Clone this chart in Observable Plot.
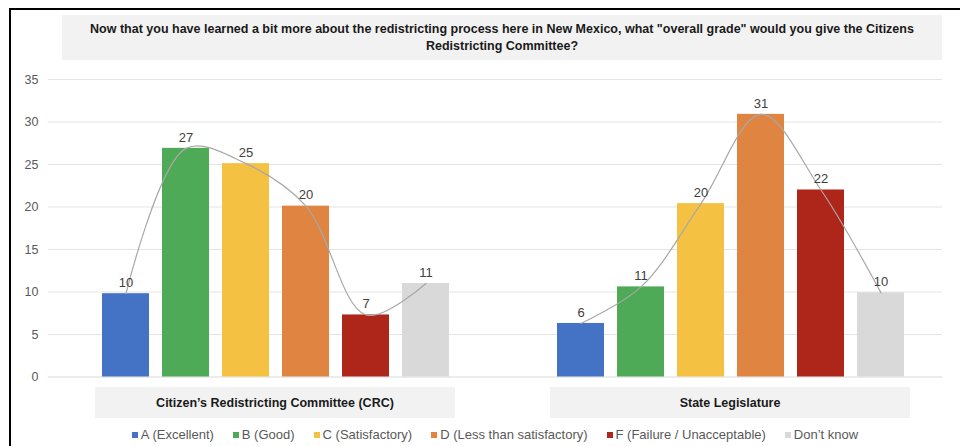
<!DOCTYPE html>
<html>
<head>
<meta charset="utf-8">
<script src="https://cdn.jsdelivr.net/npm/d3@7"></script>
<script src="https://cdn.jsdelivr.net/npm/@observablehq/plot@0.6"></script>
<style>
  html, body { margin: 0; padding: 0; background: #fff; }
  #page { position: relative; width: 960px; height: 446px; overflow: hidden; font-family: "Liberation Sans", Arial, sans-serif; }
  #frame { position: absolute; left: 9px; top: 8px; right: 0; bottom: 0; border-left: 2px solid #000; border-top: 2px solid #000; }
  #title { position: absolute; left: 62px; top: 15px; width: 880px; height: 45px; background: #f2f2f2;
           display: flex; align-items: center; justify-content: center; text-align: center;
           font-weight: bold; font-size: 12.5px; line-height: 17px; color: #1a1a1a; }
  .grp { position: absolute; top: 387px; height: 31px; background: #f2f2f2; display: flex; align-items: center; justify-content: center;
         font-weight: bold; font-size: 12.5px; color: #1a1a1a; }
  .chart { position: absolute; top: 65px; }
  #legend { position: absolute; left: 48px; top: 427px; width: 894px; display: flex; justify-content: center; }
</style>
</head>
<body>
<div id="page">
  <div id="frame"></div>
  <div id="title"></div>
  <div id="c1" class="chart" style="left:0px"></div>
  <div id="c2" class="chart" style="left:502px"></div>
  <div id="g1" class="grp" style="left:95px;width:360px"></div>
  <div id="g2" class="grp" style="left:550px;width:360px"></div>
  <div id="legend"></div>
</div>
<script>
const titleText = "Now that you have learned a bit more about the redistricting process here in New Mexico, what \"overall grade\" would you give the Citizens Redistricting Committee?";
const grades = ["A (Excellent)", "B (Good)", "C (Satisfactory)", "D (Less than satisfactory)", "F (Failure / Unacceptable)", "Don\u2019t know"];
const colors = ["#4472c4", "#4eaa56", "#f4c142", "#df8441", "#ae2519", "#d9d9d9"];
const groups = ["Citizen\u2019s Redistricting Committee (CRC)", "State Legislature"];
const crcValues = [9.8, 26.9, 25.1, 20.1, 7.3, 11.0];
const legislatureValues = [6.3, 10.6, 20.4, 30.9, 22.0, 9.9];
const yTicks = [0, 5, 10, 15, 20, 25, 30, 35];

document.getElementById("title").textContent = titleText;
document.getElementById("g1").textContent = groups[0];
document.getElementById("g2").textContent = groups[1];

function makeChart(values, opts) {
  const data = grades.map((g, i) => ({grade: g, value: values[i]}));
  const marks = [
    Plot.ruleY(yTicks.filter(t => t > 0), {stroke: "#e4e4e4", strokeWidth: 1}),
    Plot.ruleY([0], {stroke: "#d9d9d9", strokeWidth: 1}),
    Plot.barY(data, {x: "grade", y: "value", fill: "grade"}),
    Plot.line(data, {x: "grade", y: "value", curve: "catmull-rom", stroke: "#a8a8a8", strokeWidth: 1.2}),
    Plot.text(data, {x: "grade", y: "value", text: d => Math.round(d.value), dy: -11, fill: "#404040", fontSize: 13})
  ];
  if (opts.axis) marks.push(Plot.axisY({ticks: yTicks, tickSize: 0, tickPadding: 10, fontSize: 12.5, label: null, fill: "#595959"}));
  return Plot.plot({
    width: opts.width,
    height: 317,
    marginTop: 14,
    marginBottom: 5.5,
    marginLeft: opts.marginLeft,
    marginRight: 0,
    style: {fontFamily: "'Liberation Sans', Arial, sans-serif", background: "transparent", color: "#595959", overflow: "visible"},
    x: {domain: grades, paddingInner: 0.225, paddingOuter: opts.paddingOuter, align: opts.align, axis: null},
    y: {domain: [0, 35], axis: null},
    color: {domain: grades, range: colors},
    marks
  });
}

document.getElementById("c1").append(makeChart(crcValues, {width: 502, marginLeft: 48, paddingOuter: 0.858, align: 0.5, axis: true}));
document.getElementById("c2").append(makeChart(legislatureValues, {width: 440, marginLeft: 0, paddingOuter: 0.7425, align: 0.589, axis: false}));

const legend = Plot.legend({
  color: {domain: grades, range: colors, type: "ordinal"},
  legend: "swatches",
  swatchSize: 6,
  className: "lg",
  style: {fontFamily: "'Liberation Sans', Arial, sans-serif", fontSize: "13px", color: "#595959"}
});
document.getElementById("legend").append(legend);
</script>
<style>
  .lg-swatches { margin: 0 !important; min-height: 0 !important; justify-content: center; }
  .lg-swatch { margin-right: 19px !important; }
  .lg-swatch:last-child { margin-right: 0 !important; }
  .lg-swatch > svg { margin-right: 3px !important; }
</style>
</body>
</html>
